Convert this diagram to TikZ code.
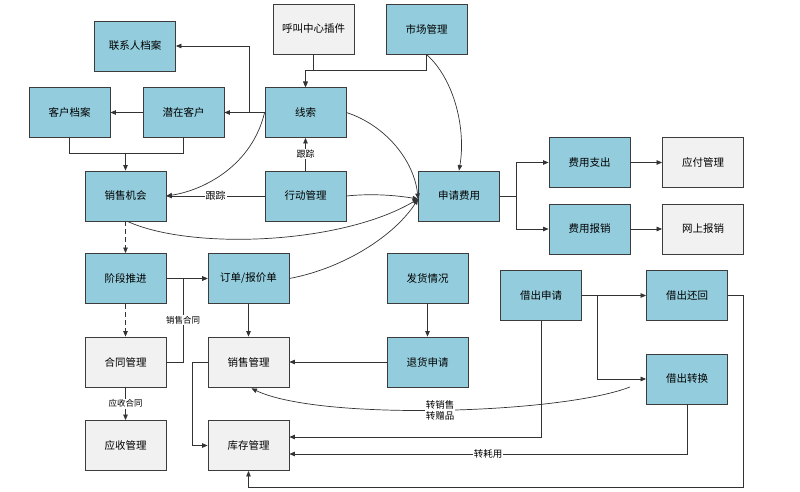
\documentclass[tikz,border=0pt]{standalone}
\usepackage{fontspec}
\setmainfont{Noto Sans CJK SC}
\usetikzlibrary{arrows.meta,calc}
\definecolor{boxblue}{HTML}{93CDDD}
\definecolor{boxgray}{HTML}{F1F1F1}
\definecolor{edgec}{HTML}{333333}
\definecolor{borderc}{HTML}{3C3C3C}
\tikzset{
  base/.style={draw=borderc, line width=0.8pt, minimum width=81pt, minimum height=50pt, inner sep=0pt, font=\fontsize{10.5}{12}\selectfont},
  bluebox/.style={base, fill=boxblue},
  graybox/.style={base, fill=boxgray},
  conn/.style={draw=edgec, line width=0.7pt},
  arr/.style={conn, -{Triangle[length=5.5pt,width=4.5pt]}},
  darr/.style={arr, dashed, dash pattern=on 5pt off 3pt},
  elabel/.style={fill=white, inner sep=1pt, font=\fontsize{8.5}{10}\selectfont},
}
\begin{document}
\begin{tikzpicture}[x=1pt,y=-1pt]
\useasboundingbox (0,0) rectangle (800,492);
% nodes
\node[bluebox] (lxr) at (135,46) {联系人档案};
\node[graybox] (hj) at (313.5,29) {呼叫中心插件};
\node[bluebox] (sc) at (426.5,29) {市场管理};
\node[bluebox] (khda) at (69.5,112.5) {客户档案};
\node[bluebox] (qzkh) at (183.5,112.5) {潜在客户};
\node[bluebox] (xs) at (305.5,112.5) {线索};
\node[bluebox] (xsjh) at (125.5,196) {销售机会};
\node[bluebox] (xdgl) at (305.5,196) {行动管理};
\node[bluebox] (sqfy) at (459,196) {申请费用};
\node[bluebox] (fyzc) at (589.5,162.5) {费用支出};
\node[graybox] (yfgl) at (703,162.5) {应付管理};
\node[bluebox] (fybx) at (589.5,229) {费用报销};
\node[graybox] (wsbx) at (703,229) {网上报销};
\node[bluebox] (jdtj) at (125.5,278.5) {阶段推进};
\node[bluebox] (dd) at (248.5,278.5) {订单/报价单};
\node[graybox] (htgl) at (125.5,362) {合同管理};
\node[graybox] (xsgl) at (248.5,362) {销售管理};
\node[graybox] (ysgl) at (125.5,445.5) {应收管理};
\node[graybox] (kcgl) at (248.5,445.5) {库存管理};
\node[bluebox] (fhqk) at (427.5,278.5) {发货情况};
\node[bluebox] (thsq) at (427.5,362) {退货申请};
\node[bluebox] (jcsq) at (541,295.5) {借出申请};
\node[bluebox] (jchh) at (687,295.5) {借出还回};
\node[bluebox] (jczh) at (687,379) {借出转换};
% junction coordinates
\coordinate (j1) at (305.5,70);
\coordinate (j2) at (249,112.5);
\coordinate (j3) at (125.5,153);
\coordinate (j4) at (516,196);
\coordinate (j5) at (183,362);
\coordinate (j6) at (192,362);
\coordinate (j7) at (597,295.5);
\coordinate (j8) at (743,295.5);
\coordinate (j9) at (743,487);
\coordinate (cs) at (630,387);
% top connectors
\draw[arr] (hj.south) |- (j1) -- (xs.north);
\draw[arr] (sc.south) |- (j1) -- (xs.north);
\draw[arr] (sc.south) .. controls (455,80) and (466,130) .. (sqfy.north);
\draw[arr] (xs.west) -- (qzkh.east);
\draw[arr] (j2) |- (lxr.east);
\draw[arr] (qzkh.west) -- (khda.east);
\draw[conn] (khda.south) |- (j3);
\draw[conn] (qzkh.south) |- (j3);
\draw[arr] (j3) -- (xsjh.north);
\draw[arr] (xs.west) .. controls (252,165) and (205,190) .. (xsjh.east);
\draw[arr] (xdgl.north) -- node[elabel, font=\fontsize{9}{10}\selectfont]{跟踪} (xs.south);
\draw[arr] (xdgl.west) -- node[elabel, font=\fontsize{10}{11}\selectfont]{跟踪} (xsjh.east);
% to 申请费用
\draw[arr] (xs.east) .. controls (385,125) and (414,160) .. ($(sqfy.west)+(0,3)$);
\draw[arr] (xdgl.east) .. controls (375,193) and (400,196) .. ($(sqfy.west)+(0,3)$);
\draw[arr] ($(xsjh.south)+(2,0)$) .. controls (190,250) and (340,245) .. ($(sqfy.west)+(0,3)$);
\draw[arr] (dd.east) .. controls (345,268) and (395,235) .. ($(sqfy.west)+(0,3)$);
% expense branch
\draw[conn] (sqfy.east) -- (j4);
\draw[arr] (j4) |- (fyzc.west);
\draw[arr] (j4) |- (fybx.west);
\draw[arr] (fyzc.east) -- (yfgl.west);
\draw[arr] (fybx.east) -- (wsbx.west);
% sales flow
\draw[darr] (xsjh.south) -- (jdtj.north);
\draw[darr] (jdtj.south) -- (htgl.north);
\draw[arr] (jdtj.east) -- (dd.west);
\draw[arr] (htgl.east) -- (j5) |- node[pos=0.25, elabel]{销售合同} (dd.west);
\draw[arr] (htgl.south) -- node[elabel]{应收合同} (ysgl.north);
\draw[arr] (dd.south) -- (xsgl.north);
\draw[arr] (thsq.west) -- (xsgl.east);
\draw[arr] (fhqk.south) -- (thsq.north);
\draw[arr] (xsgl.west) -- (j6) |- (kcgl.west);
% lending
\draw[arr] (jcsq.east) -- (jchh.west);
\draw[arr] (j7) |- (jczh.west);
\draw[arr] (cs) .. controls (560,414) and (320,421) .. node[pos=0.5, elabel, align=center, font=\fontsize{9.5}{11}\selectfont]{转销售\\转赠品} ($(xsgl.south)+(3,1)$);
\draw[arr] (jcsq.south) |- ($(kcgl.east)+(0,-8.5)$);
\draw[arr] (jczh.south) |- node[pos=0.75, elabel, font=\fontsize{9.5}{11}\selectfont]{转耗用} ($(kcgl.east)+(0,8.5)$);
\draw[arr] (jchh.east) -- (j8) -- (j9) -| (kcgl.south);
\end{tikzpicture}
\end{document}
